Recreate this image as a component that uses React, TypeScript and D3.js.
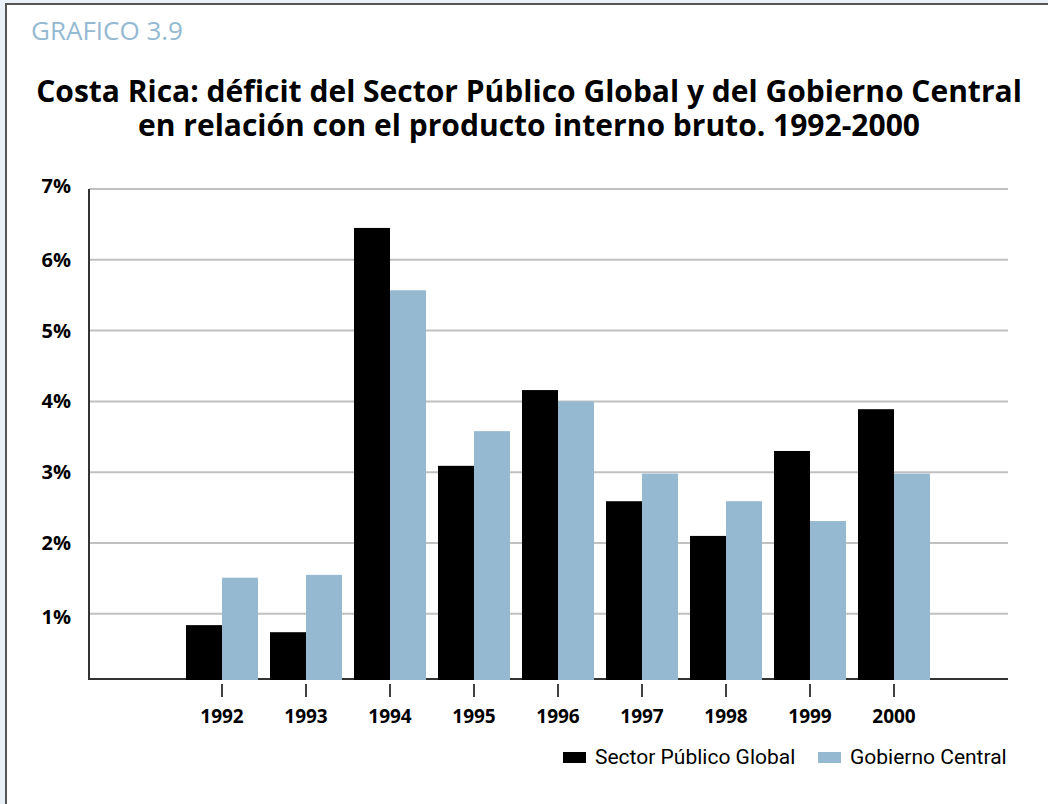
import React from "react";
import * as d3 from "d3";

const years = ["1992", "1993", "1994", "1995", "1996", "1997", "1998", "1999", "2000"];
const sectorPublicoGlobal = [0.84, 0.74, 6.45, 3.09, 4.16, 2.59, 2.1, 3.3, 3.89];
const gobiernoCentral = [1.51, 1.55, 5.57, 3.58, 4.0, 2.98, 2.59, 2.31, 2.98];
const yTicks = [1, 2, 3, 4, 5, 6, 7];
const seriesNames = ["Sector Público Global", "Gobierno Central"];
const seriesColors = ["#000000", "#95b9d1"];
const titleLines = [
  "Costa Rica: déficit del Sector Público Global y del Gobierno Central",
  "en relación con el producto interno bruto. 1992-2000",
];
const label = "GRAFICO 3.9";

export default function App() {
  const W = 1048;
  const H = 804;
  const axisLeft = 89;
  const axisRight = 1008;
  const baseY = 679;

  const y = d3.scaleLinear().domain([0, 7]).range([684.6, 189]);
  const x = d3
    .scaleBand<string>()
    .domain(years)
    .range([180, 936])
    .paddingInner(1 / 7)
    .paddingOuter(1 / 14);
  const xs = d3.scaleBand<string>().domain(["0", "1"]).range([0, x.bandwidth()]);

  const font = "'Open Sans', 'Noto Sans', sans-serif";
  const narrow = "'Liberation Sans Narrow', 'Roboto', sans-serif";

  const series = [sectorPublicoGlobal, gobiernoCentral];

  return (
    <svg
      width={W}
      height={H}
      style={{ position: "absolute", left: 0, top: 0, display: "block" }}
    >
      <rect x={0} y={0} width={W} height={H} fill="#eaf0f8" />
      <rect x={6} y={4} width={W + 10} height={H + 10} fill="#ffffff" stroke="#555555" strokeWidth={2} />

      <text x={31} y={40} fontFamily={font} fontSize={26} fill="#94b9d2">
        {label}
      </text>

      <text
        x={529}
        y={102}
        textAnchor="middle"
        fontFamily={font}
        fontWeight={700}
        fontSize={30}
        fill="#000"
      >
        {titleLines.map((t, i) => (
          <tspan key={i} x={529} dy={i === 0 ? 0 : 34}>
            {t}
          </tspan>
        ))}
      </text>

      {yTicks.map((t) => (
        <g key={t}>
          <line x1={axisLeft} x2={axisRight} y1={y(t)} y2={y(t)} stroke="#c0c0c0" strokeWidth={2} />
          <text
            x={71}
            y={y(t) + (t === 7 ? -3 : t === 1 ? 3 : 0)}
            dy="0.35em"
            textAnchor="end"
            fontFamily={font}
            fontWeight={700}
            fontSize={20}
          >
            {t}%
          </text>
        </g>
      ))}

      <line x1={axisLeft} x2={axisLeft} y1={y(7)} y2={baseY + 1} stroke="#333" strokeWidth={2} />
      <line x1={axisLeft} x2={axisRight} y1={baseY} y2={baseY} stroke="#333" strokeWidth={2} />

      {years.map((yr, i) => (
        <g key={yr} transform={`translate(${x(yr)},0)`}>
          {series.map((s, j) => (
            <rect
              key={j}
              x={xs(String(j))}
              y={y(s[i])}
              width={xs.bandwidth()}
              height={baseY + 1 - y(s[i])}
              fill={seriesColors[j]}
            />
          ))}
          <line
            x1={x.bandwidth() / 2}
            x2={x.bandwidth() / 2}
            y1={684}
            y2={697}
            stroke="#000"
            strokeWidth={1.5}
          />
          <text
            x={x.bandwidth() / 2}
            y={723}
            textAnchor="middle"
            fontFamily={font}
            fontWeight={700}
            fontSize={19}
          >
            {yr}
          </text>
        </g>
      ))}

      {seriesNames.map((n, i) => {
        const lx = i === 0 ? 563 : 818;
        return (
          <g key={n}>
            <rect x={lx} y={752} width={23} height={11} fill={seriesColors[i]} />
            <text x={lx + 32} y={764} fontFamily={narrow} fontSize={21} fill="#000">
              {n}
            </text>
          </g>
        );
      })}
    </svg>
  );
}
